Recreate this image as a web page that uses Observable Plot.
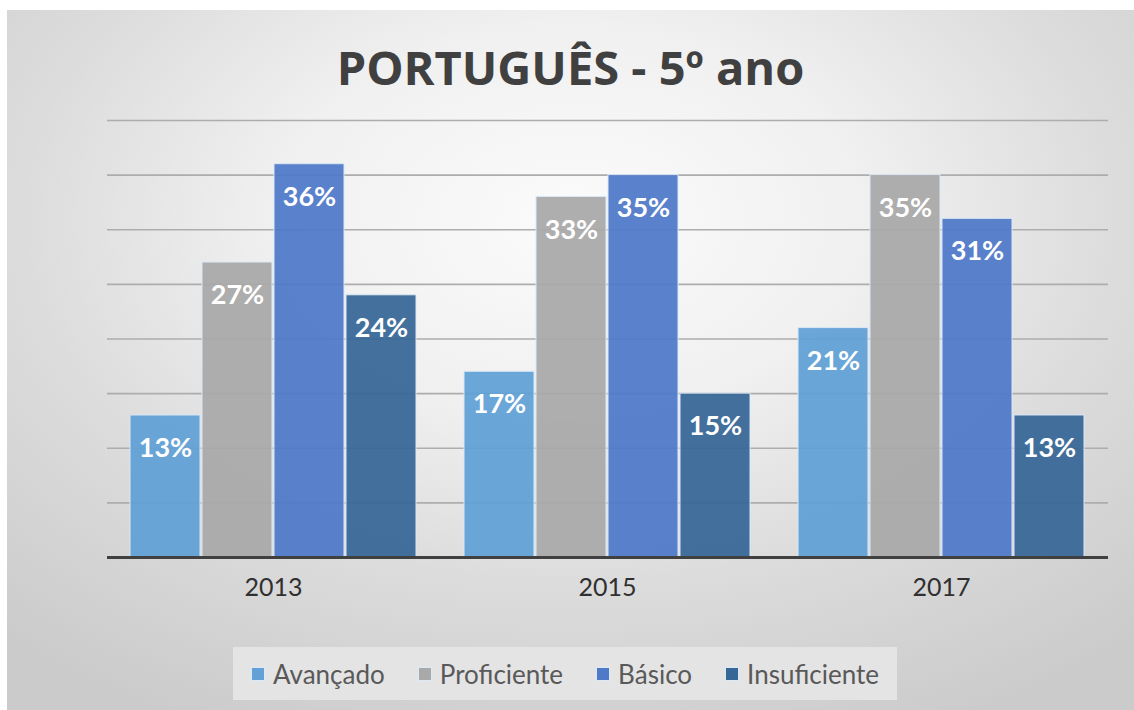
<!DOCTYPE html>
<html><head><meta charset="utf-8">
<script src="https://cdn.jsdelivr.net/npm/d3@7"></script>
<script src="https://cdn.jsdelivr.net/npm/@observablehq/plot@0.6"></script>
<style>
body{margin:0;background:#fff;}
#wrap{position:relative;width:1134px;height:710px;overflow:hidden;background:#fff;}
#bg{position:absolute;left:7px;top:10px;right:0;bottom:0;
 background:radial-gradient(ellipse 75% 80% at 50% 30%, #fbfbfb 0%, #f0f0f0 35%, #dcdcdc 65%, #cbcbcb 100%);}
.layer{position:absolute;left:0;top:0;}
#title{position:absolute;left:7px;right:0;top:44px;text-align:center;font-family:"Open Sans";font-weight:bold;font-size:47px;line-height:1;color:#404040;}
#legend{position:absolute;left:233px;top:647px;width:664px;height:53px;background:#e4e4e4;display:flex;align-items:center;justify-content:center;gap:33px;font-family:Lato;font-size:26px;color:#595959;}
#legend .item{display:flex;align-items:center;}
#legend .sw{width:14px;height:14px;margin-right:8px;border:1px solid #dce9f6;box-sizing:border-box;}
</style></head>
<body>
<div id="wrap">
  <div id="bg"></div>
  <div id="title">PORTUGUÊS - 5º ano</div>
  <div id="legend"></div>
</div>
<script>
const years = ["2013", "2015", "2017"];
const categories = ["Avançado", "Proficiente", "Básico", "Insuficiente"];
const avancado = [13, 17, 21];
const proficiente = [27, 33, 35];
const basico = [36, 35, 31];
const insuficiente = [24, 15, 13];
const gridTicks = [5, 10, 15, 20, 25, 30, 35, 40];
const colors = ["#62a0d6", "#a9a9a9", "#5079c8", "#376796"];

const series = [avancado, proficiente, basico, insuficiente];
const data = years.flatMap((y, i) => categories.map((c, j) => ({year: y, category: c, value: series[j][i]})));

const common = {width: 1134, height: 710, marginTop: 120, marginBottom: 153, marginLeft: 107, marginRight: 26,
  style: {background: "transparent", overflow: "visible", fontFamily: "Lato"}};

const grid = Plot.plot({...common,
  y: {domain: [0, 40], axis: null},
  marks: [Plot.ruleY(gridTicks, {stroke: "#adadad", strokeWidth: 1.6})]
});

const bars = Plot.plot({...common,
  fx: {domain: years, paddingInner: 0.143, paddingOuter: 0.069, label: null},
  x: {domain: categories, paddingInner: 0.03, paddingOuter: 0, axis: null},
  y: {domain: [0, 40], axis: null},
  color: {domain: categories, range: colors},
  marks: [
    Plot.barY(data, {fx: "year", x: "category", y: "value", fill: "category", fillOpacity: 0.94, stroke: "#dbe8f5", strokeWidth: 1}),
    Plot.text(data, {fx: "year", x: "category", y: "value", text: d => d.value + "%", dy: 33, fill: "white", fontSize: 27, fontWeight: "bold"}),
    Plot.axisFx({anchor: "bottom", tickSize: 0, tickPadding: 21, fontSize: 25, color: "#303030", label: null})
  ]
});

const base = Plot.plot({...common,
  y: {domain: [0, 40], axis: null},
  marks: [Plot.ruleY([0], {stroke: "#404040", strokeWidth: 3})]
});

const wrap = document.getElementById("wrap");
const legend = document.getElementById("legend");
for (const el of [grid, bars, base]) { el.classList.add("layer"); wrap.insertBefore(el, legend); }
wrap.appendChild(document.getElementById("title"));
categories.forEach((c, i) => {
  const it = document.createElement("div"); it.className = "item";
  const sw = document.createElement("span"); sw.className = "sw"; sw.style.background = colors[i];
  const tx = document.createElement("span"); tx.textContent = c;
  it.appendChild(sw); it.appendChild(tx); legend.appendChild(it);
});
</script>
</body></html>
